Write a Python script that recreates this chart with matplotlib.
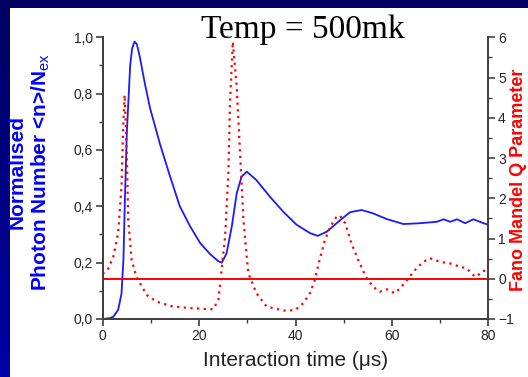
import numpy as np
import matplotlib
matplotlib.use('Agg')
import matplotlib.pyplot as plt
from matplotlib.ticker import MultipleLocator, FuncFormatter

# photon number (left axis)
t_n = [0, 1.5, 2.2, 3.2, 3.9, 4.3, 4.6, 5.0, 5.7, 6.1, 6.6, 7.1, 7.7, 8.7, 9.8, 11.9,
       14.0, 16.0, 18.1, 20.2, 22.3, 24.0, 24.7, 25.7, 26.8, 27.8, 28.8, 29.9, 31.9,
       34.7, 37.5, 40.2, 43.0, 44.6, 46.5, 49.2, 51.3, 53.7, 56.1, 58.9, 62.4, 65.8,
       69.3, 70.7, 72.1, 73.5, 75.2, 76.9, 79.0, 80.0]
n_norm = [0, 0.003, 0.008, 0.032, 0.09, 0.21, 0.42, 0.66, 0.90, 0.96, 0.985, 0.975,
          0.93, 0.84, 0.75, 0.62, 0.505, 0.40, 0.33, 0.27, 0.23, 0.205, 0.20, 0.233,
          0.33, 0.446, 0.505, 0.523, 0.493, 0.434, 0.38, 0.335, 0.305, 0.295, 0.31,
          0.35, 0.379, 0.387, 0.375, 0.355, 0.337, 0.34, 0.345, 0.354, 0.345, 0.354,
          0.34, 0.354, 0.34, 0.335]

# Fano / Mandel Q (right axis)
t_q = [0, 1.2, 2.2, 3.2, 3.9, 4.3, 4.55, 5.0, 5.3, 6.0, 7.0, 9.1, 11.2, 14.6, 18.1,
       22.9, 24.0, 24.6, 25.4, 26.1, 26.4, 27.0, 27.8, 28.5, 29.2, 30.2, 31.9, 34.0,
       37.5, 39.9, 41.6, 43.0, 44.0, 45.0, 46.1, 47.2, 48.5, 49.2, 50.3, 51.6, 53.0,
       54.6, 56.1, 57.5, 58.9, 60.6, 62.0, 63.4, 65.1, 66.5, 67.9, 70.0, 72.1, 74.1,
       75.5, 76.9, 77.6, 78.6, 80.0]
q_val = [0.12, 0.26, 0.55, 1.13, 2.29, 3.95, 4.57, 3.12, 1.46, 0.47, 0.05, -0.40,
         -0.57, -0.69, -0.73, -0.76, -0.53, 0.14, 1.05, 2.70, 4.36, 5.89, 4.77, 3.12,
         1.46, 0.14, -0.36, -0.69, -0.79, -0.78, -0.61, -0.36, -0.03, 0.47, 0.96, 1.29,
         1.54, 1.57, 1.38, 0.88, 0.47, 0.05, -0.20, -0.32, -0.26, -0.36, -0.20, 0.01,
         0.26, 0.42, 0.51, 0.42, 0.38, 0.30, 0.26, 0.09, 0.05, 0.18, 0.22]

plt.rcParams['font.family'] = ['Liberation Sans', 'DejaVu Sans']
plt.rcParams['mathtext.fontset'] = 'custom'
plt.rcParams['mathtext.rm'] = 'Liberation Sans'

W, H = 528, 377
fig = plt.figure(figsize=(W / 100, H / 100), dpi=100, facecolor='white')

# slide decoration: navy top band and left strip
top = fig.add_axes([0, 1 - 8 / H, 1, 8 / H])
top.set_facecolor('#000060')
top.axis('off')
top.add_patch(plt.Rectangle((0, 0), 1, 1, color='#000060', transform=top.transAxes))
side = fig.add_axes([0, 0, 10 / W, 1])
grad = np.linspace(0, 1, 100).reshape(-1, 1)
side.imshow(grad, aspect='auto', cmap=matplotlib.colors.LinearSegmentedColormap.from_list(
    'navy', ['#000060', '#0000a8']), extent=[0, 1, 0, 1])
side.axis('off')

ax = fig.add_axes([102.7 / W, 1 - 319 / H, (488.3 - 102.7) / W, (319 - 37.3) / H])
ax.plot(t_n, n_norm, color='#1a1aff', lw=1.3)
ax.set_xlim(0, 80)
ax.set_ylim(0, 1)
ax.xaxis.set_major_locator(MultipleLocator(20))
ax.xaxis.set_minor_locator(MultipleLocator(10))
ax.yaxis.set_major_locator(MultipleLocator(0.2))
ax.yaxis.set_minor_locator(MultipleLocator(0.1))
ax.yaxis.set_major_formatter(FuncFormatter(lambda v, p: f"{v:.1f}".replace('.', ',')))

ax2 = ax.twinx()
ax2.plot(t_q, q_val, color='red', lw=1.6, ls=(0, (1, 2)))
ax2.axhline(0, color='red', lw=1.4)
ax2.set_ylim(-1, 6)
ax2.yaxis.set_major_locator(MultipleLocator(1))
ax2.yaxis.set_minor_locator(MultipleLocator(0.5))

for a in (ax, ax2):
    a.spines['top'].set_visible(False)
    for s in a.spines.values():
        s.set_color('#404040')
        s.set_linewidth(1.3)
    a.tick_params(which='major', length=5, width=1.2, color='#404040',
                  labelsize=10, labelcolor='#222222', pad=2)
    a.tick_params(which='minor', length=3, width=1.0, color='#404040')
    a.patch.set_alpha(0)

ax.set_xlabel('Interaction time (\u03bcs)', fontsize=15, color='#222222', labelpad=6)

fig.text(30 / W, 1 - 172 / H, 'Normalised\nPhoton Number <n>/N$_{\\mathrm{ex}}$',
         rotation=90, ha='center', va='center', multialignment='center',
         color='blue', fontsize=15, fontweight='bold', linespacing=1.15)
fig.text(527 / W, 1 - 180 / H, 'Fano Mandel Q Parameter', rotation=90,
         ha='right', va='center', color='red', fontsize=13, fontweight='bold')
fig.text(303 / W, 1 - 38 / H, 'Temp = 500mk', ha='center', va='baseline',
         fontsize=24, family='Liberation Serif', color='black')

fig.savefig('out.png', dpi=100, facecolor='white')
